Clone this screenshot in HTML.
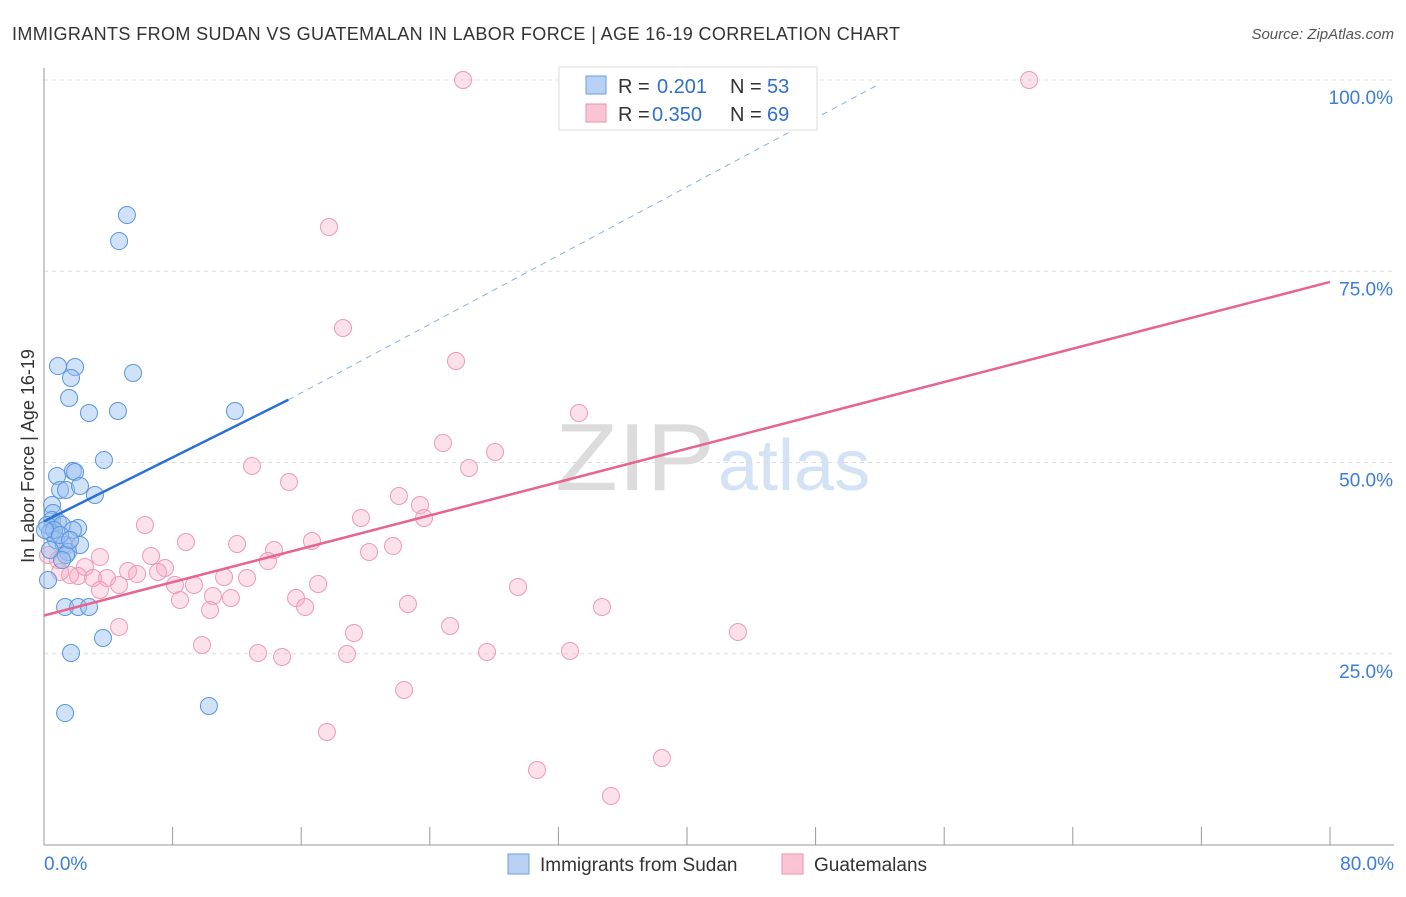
<!DOCTYPE html>
<html><head><meta charset="utf-8">
<style>
body{margin:0;background:#fff;font-family:"Liberation Sans",sans-serif;}
svg text{font-family:"Liberation Sans",sans-serif;}
</style></head>
<body>
<svg id="chart" width="1406" height="892" xmlns="http://www.w3.org/2000/svg">
<text x="12" y="40" font-size="18" fill="#333" textLength="888" lengthAdjust="spacing">IMMIGRANTS FROM SUDAN VS GUATEMALAN IN LABOR FORCE | AGE 16-19 CORRELATION CHART</text>
<text x="1394" y="39" font-size="15" fill="#555" font-style="italic" text-anchor="end">Source: ZipAtlas.com</text>
<text x="555" y="490" font-size="96" fill="#dcdcdc" font-family="Liberation Serif" textLength="160" lengthAdjust="spacingAndGlyphs">ZIP</text>
<text x="718" y="490" font-size="72" fill="#d3e2f4">atlas</text>
<g id="grid"></g>
<g id="axes"></g>
<g id="marks"></g>
<text transform="translate(34,456) rotate(-90)" font-size="18" fill="#333" text-anchor="middle">In Labor Force | Age 16-19</text>
<g>
<rect x="559" y="67" width="258" height="63" fill="#fff" stroke="#ddd"/>
<rect x="586" y="76" width="20" height="18" fill="#b7d0f4" stroke="#6a9fe0"/>
<rect x="586" y="104" width="20" height="18" fill="#f9c4d3" stroke="#ee90ad"/>
<text x="618" y="93" font-size="20" fill="#333">R =</text>
<text x="657" y="93" font-size="20" fill="#2e6fd1">0.201</text>
<text x="730" y="93" font-size="20" fill="#333">N =</text>
<text x="767" y="93" font-size="20" fill="#2e6fd1">53</text>
<text x="618" y="121" font-size="20" fill="#333">R =</text>
<text x="652" y="121" font-size="20" fill="#2e6fd1">0.350</text>
<text x="730" y="121" font-size="20" fill="#333">N =</text>
<text x="767" y="121" font-size="20" fill="#2e6fd1">69</text>
</g>
<g>
<rect x="508" y="854" width="21" height="20" fill="#b7d0f4" stroke="#6a9fe0"/>
<text x="540" y="871" font-size="19" fill="#333">Immigrants from Sudan</text>
<rect x="782" y="854" width="21" height="20" fill="#f9c4d3" stroke="#ee90ad"/>
<text x="814" y="871" font-size="19" fill="#333">Guatemalans</text>
</g>
</svg>
<script>
const xTicks=[0,8,16,24,32,40,48,56,64,72,80];
const yTicks=[25,50,75,100];
const bluePx=[[127,215],[119,241],[58,366],[75,367],[71,378],[133,373],[69,398],[89,413],[118,411],[235,411],[104,460],[57,476],[73,471],[75,472],[60,490],[66,490],[80,486],[95,495],[52,505],[53,513],[52,520],[58,522],[47,525],[62,525],[78,528],[73,530],[50,532],[56,540],[64,545],[80,545],[68,552],[66,555],[62,560],[48,580],[65,607],[78,607],[89,607],[103,638],[71,653],[209,706],[65,713],[54,530],[45,530],[60,535],[70,540],[50,550]];
const pinkPx=[[463,80],[1029,80],[329,227],[343,328],[456,361],[579,413],[443,443],[495,452],[469,468],[252,466],[289,482],[399,496],[420,505],[361,518],[424,518],[145,525],[186,542],[237,544],[312,541],[393,546],[369,552],[274,550],[100,557],[151,556],[48,555],[58,560],[85,567],[128,571],[165,568],[158,572],[78,576],[93,578],[107,578],[119,585],[137,574],[175,585],[194,585],[224,577],[247,578],[268,561],[318,584],[213,596],[231,598],[296,598],[180,600],[210,610],[305,607],[408,604],[518,587],[602,607],[119,627],[354,633],[450,626],[738,632],[202,645],[258,653],[282,657],[347,654],[487,652],[570,651],[404,690],[327,732],[537,770],[662,758],[611,796],[70,575],[60,572],[100,590],[68,545]];
const blueX=bluePx.map(p=>+((p[0]-44)/16.075).toFixed(2));
const blueY=bluePx.map(p=>+((845-p[1])/7.65).toFixed(2));
const pinkX=pinkPx.map(p=>+((p[0]-44)/16.075).toFixed(2));
const pinkY=pinkPx.map(p=>+((845-p[1])/7.65).toFixed(2));
const blueLine=[0,42.3,15.2,58.2];
const blueDash=[15.2,58.2,52,99.5];
const pinkLine=[0,30,80,73.6];

const sx=v=>44+v*16.075, sy=v=>845-v*7.65;
const NS="http://www.w3.org/2000/svg";
function mk(t,a,parent){const e=document.createElementNS(NS,t);for(const k in a)e.setAttribute(k,a[k]);parent.appendChild(e);return e;}
const grid=document.getElementById('grid'),axes=document.getElementById('axes'),marks=document.getElementById('marks');
yTicks.forEach(v=>{
 const l=mk('line',{x1:44,x2:1394,y1:sy(v),y2:sy(v),stroke:'#ddd','stroke-dasharray':'4,4'},grid);
 
 
 const t=mk('text',{x:1393,y:sy(v)+24,'font-size':19,fill:'#3b7dd8','text-anchor':'end'},axes);
 t.textContent=v.toFixed(1)+'%';
 
 
});
const ax=mk('line',{x1:44,x2:44,y1:68,y2:845,stroke:'#999'},axes);


const bx=mk('line',{x1:44,x2:1394,y1:845,y2:845,stroke:'#999'},axes);


xTicks.forEach(v=>{
 const l=mk('line',{x1:sx(v),x2:sx(v),y1:827,y2:845,stroke:'#999'},axes);
 
 
});
[[0,'start',44],[80,'end',1394]].forEach(([v,anc,x])=>{
 const t=mk('text',{x:x,y:870,'font-size':19,fill:'#3b7dd8','text-anchor':anc},axes);
 t.textContent=v.toFixed(1)+'%';
 
 
});
pinkX.forEach((x,i)=>{
 const c=mk('circle',{cx:sx(x),cy:sy(pinkY[i]),r:8.5,fill:'rgba(246,170,194,0.35)',stroke:'#ee9ab4','stroke-width':1},marks);
 
 
});
blueX.forEach((x,i)=>{
 const c=mk('circle',{cx:sx(x),cy:sy(blueY[i]),r:8.5,fill:'rgba(150,190,240,0.45)',stroke:'#5b95df','stroke-width':1},marks);
 
 
});
const bd=mk('line',{x1:sx(blueDash[0]),y1:sy(blueDash[1]),x2:sx(blueDash[2]),y2:sy(blueDash[3]),stroke:'#8ab2e6','stroke-width':1,'stroke-dasharray':'6,5'},marks);


const bl=mk('line',{x1:sx(blueLine[0]),y1:sy(blueLine[1]),x2:sx(blueLine[2]),y2:sy(blueLine[3]),stroke:'#2a6fd6','stroke-width':2.5},marks);


const pl=mk('line',{x1:sx(pinkLine[0]),y1:sy(pinkLine[1]),x2:sx(pinkLine[2]),y2:sy(pinkLine[3]),stroke:'#e8648f','stroke-width':2.5},marks);


</script>
</body></html>
